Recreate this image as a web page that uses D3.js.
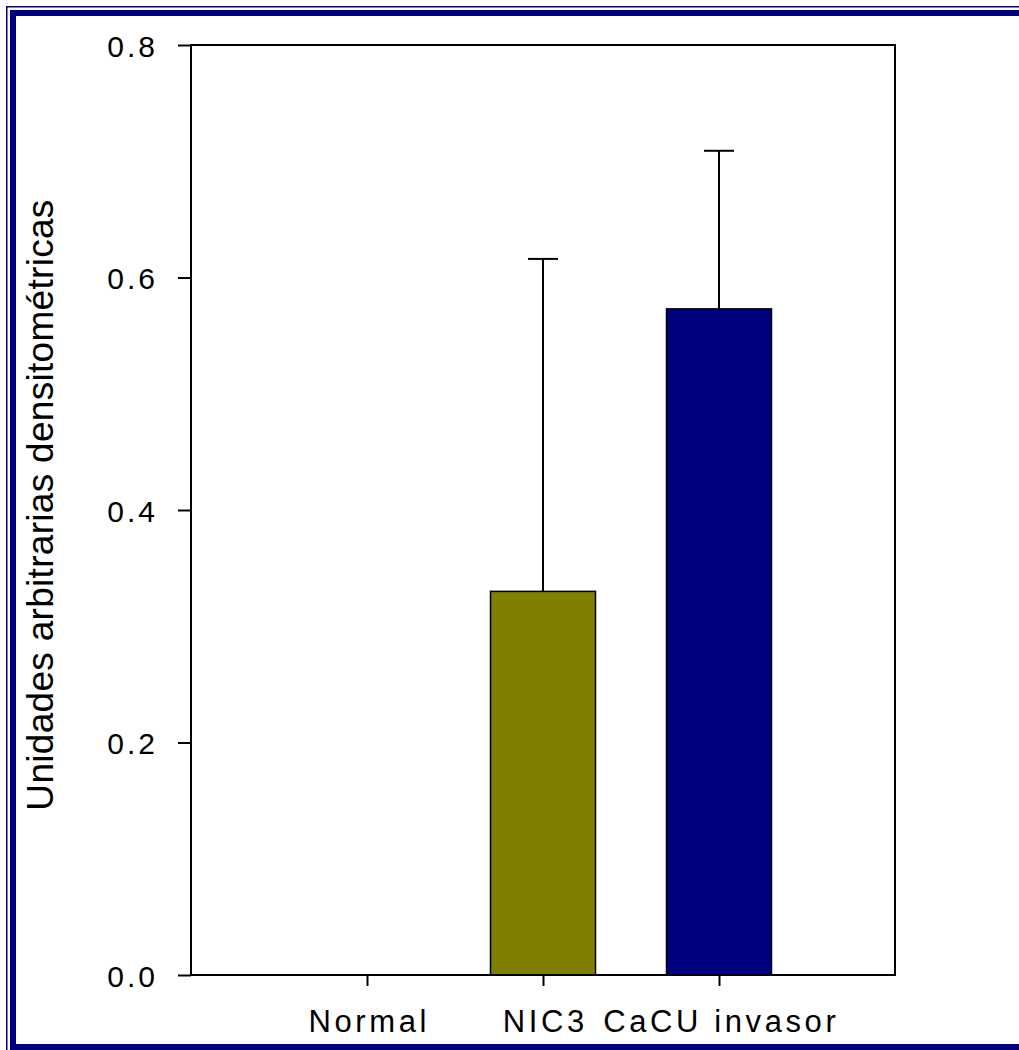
<!DOCTYPE html>
<html><head><meta charset="utf-8">
<script src="https://cdn.jsdelivr.net/npm/d3@7"></script>
<style>body{margin:0;background:#fff;} svg{display:block;font-family:"Liberation Sans",Arial,sans-serif;}</style>
</head><body>
<svg id="c" width="1019" height="1050"></svg>
<script>
const categories = ["Normal", "NIC3", "CaCU invasor"];
const values = [0, 0.33, 0.573];
const errors = [0, 0.286, 0.136];
const colors = ["#808000", "#808000", "#000080"];
const yTicks = [0, 0.2, 0.4, 0.6, 0.8];
const yLabel = "Unidades arbitrarias densitométricas";

const svg = d3.select("#c");
// border
svg.append("rect").attr("x",6.75).attr("y",6.75).attr("width",1100).attr("height",1100)
  .attr("fill","none").attr("stroke","#000080").attr("stroke-width",1.5);
svg.append("rect").attr("x",13).attr("y",13).attr("width",1100).attr("height",1034)
  .attr("fill","none").attr("stroke","#000080").attr("stroke-width",6);

const L=191, R=895, T=45, B=975;
const x = d3.scalePoint().domain(categories).range([367,719]);
const y = d3.scaleLinear().domain([0,0.8]).range([B,T]);
const bw = 105;

const g = svg.append("g");
g.selectAll(".bar").data(categories).enter().append("rect")
  .attr("x",d=>x(d)-bw/2).attr("width",bw)
  .attr("y",(d,i)=>y(values[i])).attr("height",(d,i)=>B-y(values[i]))
  .attr("fill",(d,i)=>colors[i]).attr("stroke","#000").attr("stroke-width",1.5)
  .style("display",(d,i)=>values[i]>0?null:"none");
categories.forEach((d,i)=>{
  if(errors[i]<=0) return;
  const cx=x(d), y0=y(values[i]), y1=y(values[i]+errors[i]);
  g.append("line").attr("x1",cx).attr("x2",cx).attr("y1",y0).attr("y2",y1).attr("stroke","#000").attr("stroke-width",2);
  g.append("line").attr("x1",cx-15).attr("x2",cx+15).attr("y1",y1).attr("y2",y1).attr("stroke","#000").attr("stroke-width",2);
});
g.append("rect").attr("x",L).attr("y",T).attr("width",R-L).attr("height",B-T)
  .attr("fill","none").attr("stroke","#000").attr("stroke-width",2);

// y axis
const ya = d3.axisLeft(y).tickValues(yTicks).tickFormat(d3.format(".1f")).tickSize(13).tickPadding(20);
const yg = svg.append("g").attr("transform",`translate(${L},0)`).call(ya);
yg.select(".domain").remove();
yg.selectAll("line").attr("stroke","#000").attr("stroke-width",2);
yg.selectAll("text").attr("font-size",30).attr("fill","#000").style("letter-spacing","3px")
  .attr("font-family","Liberation Sans, Arial, sans-serif").attr("dy","0.38em");

// x axis
const xa = d3.axisBottom(x).tickSize(11).tickPadding(24);
const xg = svg.append("g").attr("transform",`translate(0,${B})`).call(xa);
xg.select(".domain").remove();
xg.selectAll("line").attr("stroke","#000").attr("stroke-width",2);
xg.selectAll("text").attr("font-size",31).attr("fill","#000").style("letter-spacing","3.6px")
  .attr("dx","1.8px")
  .attr("font-family","Liberation Sans, Arial, sans-serif");

svg.append("text").attr("transform","translate(53,505) rotate(-90)")
  .attr("text-anchor","middle").attr("font-size",37).attr("fill","#000")
  .style("letter-spacing","0.3px").text(yLabel);
</script>
</body></html>
